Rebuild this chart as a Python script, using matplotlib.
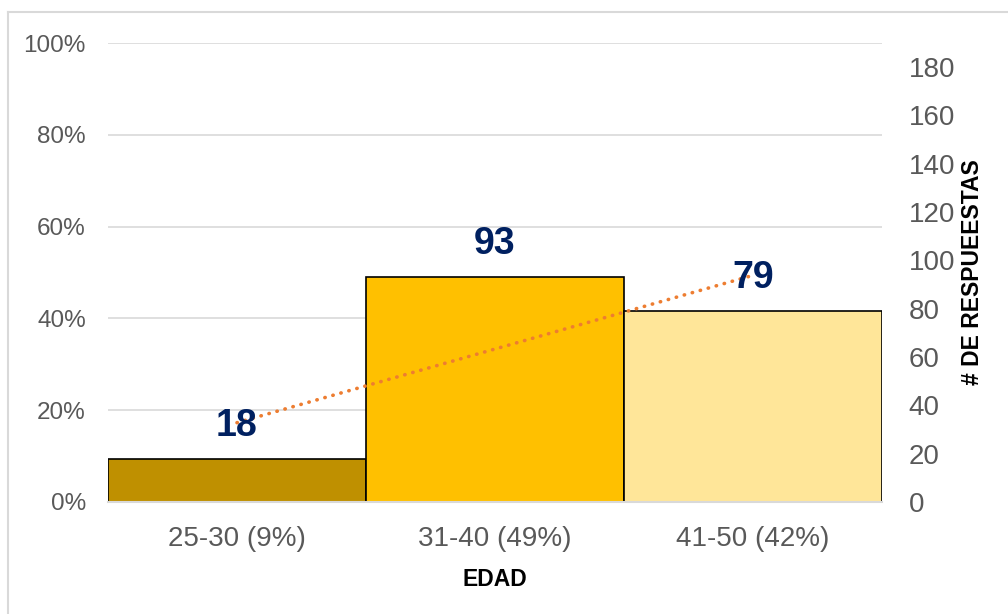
"""Age distribution of respondents: share per age band (bars) with counts and trend."""

import numpy as np
import matplotlib

matplotlib.use("Agg")
import matplotlib.pyplot as plt  # noqa: E402
from matplotlib.lines import Line2D  # noqa: E402

plt.rcParams["font.family"] = ["Liberation Sans", "DejaVu Sans"]

# Survey data
age_bands = ["25-30 (9%)", "31-40 (49%)", "41-50 (42%)"]
counts = [18, 93, 79]
bar_colors = ["#BF9000", "#FFC000", "#FFE699"]

TICK_GREY = "#595959"
GRID_GREY = "#D9D9D9"
LABEL_BLUE = "#002060"
TREND_ORANGE = "#ED7D31"

total = sum(counts)
shares = [100.0 * c / total for c in counts]
x = np.arange(len(counts))

fig = plt.figure(figsize=(10.08, 6.14), dpi=100)
ax = fig.add_axes([108 / 1008, 112 / 614, 774 / 1008, 459 / 614])

ax.bar(x, shares, width=1.0, color=bar_colors, edgecolor="black",
       linewidth=1.2, zorder=2)
ax.set_xlim(-0.5, len(counts) - 0.5)
ax.set_ylim(0, 100)
ax.set_yticks(range(0, 101, 20))
ax.set_yticklabels([f"{v}%" for v in range(0, 101, 20)])
ax.set_xticks(x)
ax.set_xticklabels(age_bands)
ax.yaxis.grid(True, color=GRID_GREY, lw=1.2, zorder=0)
ax.set_axisbelow(True)
for side in ("top", "right", "left"):
    ax.spines[side].set_visible(False)
ax.spines["bottom"].set_color(GRID_GREY)
ax.spines["bottom"].set_linewidth(1.5)
ax.tick_params(axis="y", length=0, labelsize=17.5, colors=TICK_GREY, pad=16)
ax.tick_params(axis="x", length=0, labelsize=20, colors=TICK_GREY, pad=17)
ax.set_xlabel("EDAD", fontsize=16.5, fontweight="bold", labelpad=12)

# Counts on the secondary axis, scaled so they line up with the shares
ax2 = ax.twinx()
ax2.set_ylim(0, total)
ax2.set_yticks(range(0, 181, 20))
for side in ("top", "right", "left", "bottom"):
    ax2.spines[side].set_visible(False)
ax2.tick_params(axis="y", length=0, labelsize=20, colors=TICK_GREY, pad=19)
ax2.set_ylabel("# DE RESPUEESTAS", fontsize=16.5, fontweight="bold")
ax2.yaxis.set_label_coords(1.102, 0.5)

# Linear trend of the counts
slope, intercept = np.polyfit(x, counts, 1)
ax2.plot(x, slope * x + intercept, color=TREND_ORANGE, lw=2.6,
         linestyle=(0, (0.1, 2.2)), dash_capstyle="round", zorder=4)

for xi, c in zip(x, counts):
    ax2.annotate(str(c), xy=(xi, c), xytext=(0, 33), textcoords="offset pixels",
                 ha="center", va="center", fontsize=27, fontweight="bold",
                 color=LABEL_BLUE, zorder=5)

# Chart frame: only the left and top edges are visible
fig.lines.append(Line2D([8 / 1008, 8 / 1008], [0, 602 / 614],
                        transform=fig.transFigure, color=GRID_GREY, lw=1.5))
fig.lines.append(Line2D([8 / 1008, 1], [602 / 614, 602 / 614],
                        transform=fig.transFigure, color=GRID_GREY, lw=1.5))

fig.savefig("out.png", dpi=100)
plt.close(fig)
